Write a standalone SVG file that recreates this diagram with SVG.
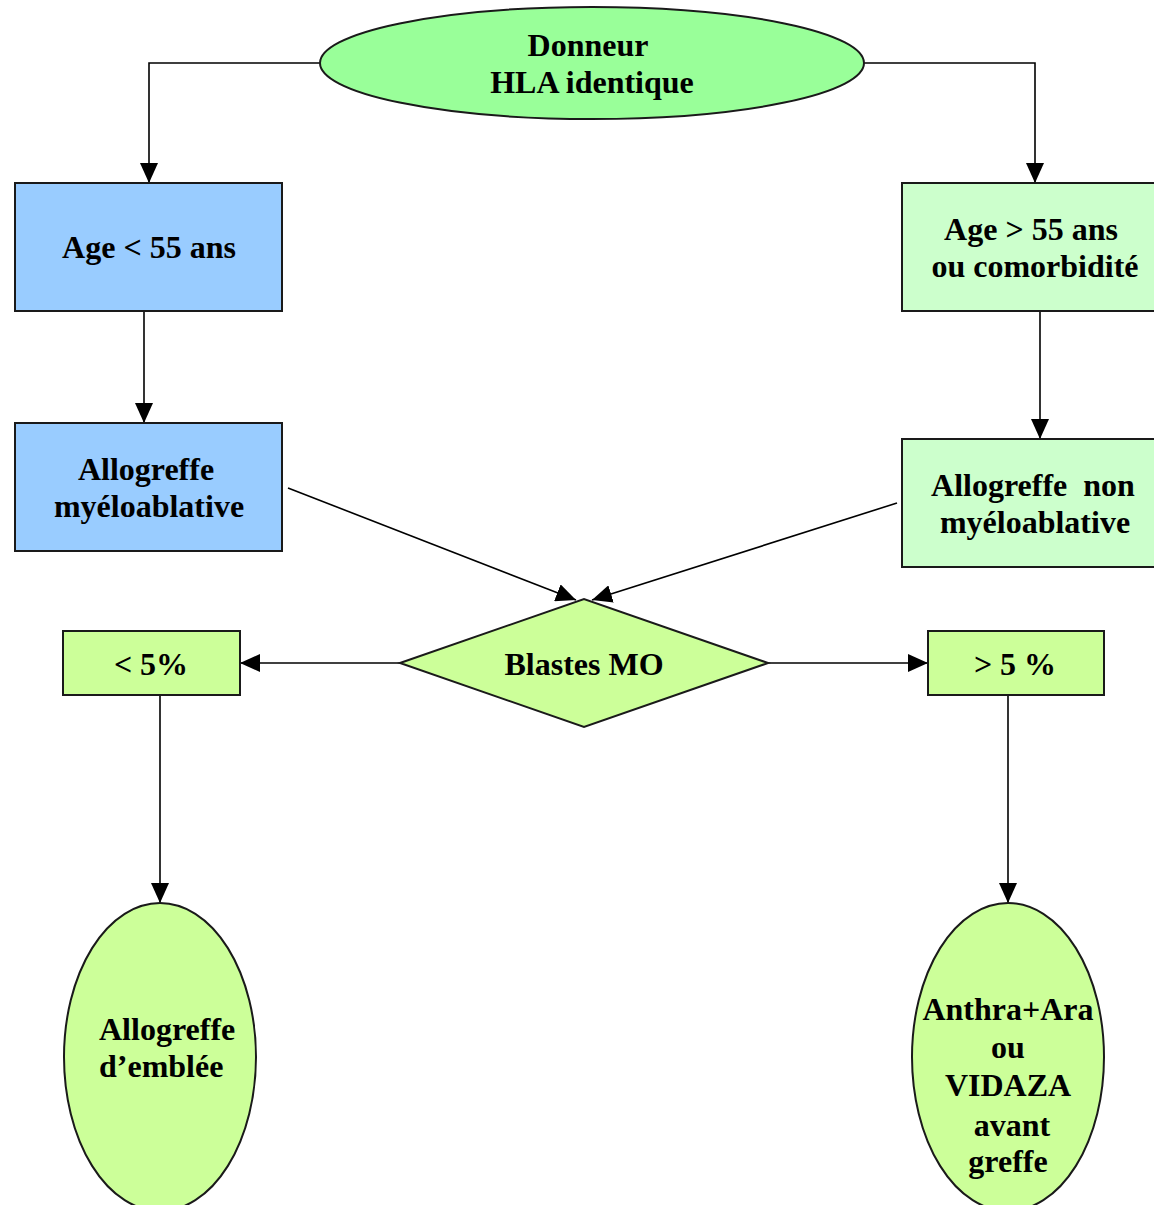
<svg xmlns="http://www.w3.org/2000/svg" width="1154" height="1205" viewBox="0 0 1154 1205">
<defs>
<marker id="ah" markerUnits="userSpaceOnUse" markerWidth="20" markerHeight="18" viewBox="0 0 20 18" refX="20" refY="9" orient="auto">
<path d="M0,0 L20,9 L0,18 Z" fill="#000"/>
</marker>
</defs>
<style>
.n{stroke:#1a1a1a;stroke-width:2}
.t{font-family:"Liberation Serif","Times New Roman",serif;font-weight:bold;font-size:32px;fill:#000}
.c{text-anchor:middle}
.e{fill:none;stroke:#000;stroke-width:1.6}
</style>
<rect width="1154" height="1205" fill="#fff"/>
<g id="connectors">
<path class="e" d="M320,63 H149 V183" marker-end="url(#ah)"/>
<path class="e" d="M864,63 H1035 V183" marker-end="url(#ah)"/>
<path class="e" d="M144,311 V423" marker-end="url(#ah)"/>
<path class="e" d="M1040,311 V439" marker-end="url(#ah)"/>
<path class="e" d="M288,488 L576,600" marker-end="url(#ah)"/>
<path class="e" d="M897,503 L592,600" marker-end="url(#ah)"/>
<path class="e" d="M400,663 H240" marker-end="url(#ah)"/>
<path class="e" d="M768,663 H928" marker-end="url(#ah)"/>
<path class="e" d="M160,695 V903" marker-end="url(#ah)"/>
<path class="e" d="M1008,695 V903" marker-end="url(#ah)"/>
</g>
<g id="donneur">
<ellipse class="n" cx="592" cy="63" rx="272" ry="56" fill="#99FF99"/>
<text class="t c" x="588" y="56">Donneur</text>
<text class="t c" x="592" y="93">HLA identique</text>
</g>
<g id="age-lt55">
<rect class="n" x="15" y="183" width="267" height="128" fill="#99CCFF"/>
<text class="t c" x="149" y="258">Age &lt; 55 ans</text>
</g>
<g id="age-gt55">
<rect class="n" x="902" y="183" width="260" height="128" fill="#CCFFCC"/>
<text class="t c" x="1031" y="240">Age &gt; 55 ans</text>
<text class="t c" x="1035" y="277">ou comorbidité</text>
</g>
<g id="allo-myelo">
<rect class="n" x="15" y="423" width="267" height="128" fill="#99CCFF"/>
<text class="t c" x="146" y="480">Allogreffe</text>
<text class="t c" x="149" y="517">myéloablative</text>
</g>
<g id="allo-non-myelo">
<rect class="n" x="902" y="439" width="260" height="128" fill="#CCFFCC"/>
<text class="t c" x="1033" y="496" xml:space="preserve">Allogreffe  non</text>
<text class="t c" x="1035" y="533">myéloablative</text>
</g>
<g id="blastes">
<polygon class="n" points="400,663 584,599 768,663 584,727" fill="#CCFF99"/>
<text class="t c" x="584" y="675">Blastes MO</text>
</g>
<g id="lt5">
<rect class="n" x="63" y="631" width="177" height="64" fill="#CCFF99"/>
<text class="t c" x="151" y="675">&lt; 5%</text>
</g>
<g id="gt5">
<rect class="n" x="928" y="631" width="176" height="64" fill="#CCFF99"/>
<text class="t c" x="1015" y="675">&gt; 5 %</text>
</g>
<g id="allo-emblee">
<ellipse class="n" cx="160" cy="1057" rx="96" ry="154" fill="#CCFF99"/>
<text class="t" x="99" y="1040">Allogreffe</text>
<text class="t" x="99" y="1077">d’emblée</text>
</g>
<g id="anthra">
<ellipse class="n" cx="1008" cy="1057" rx="96" ry="154" fill="#CCFF99"/>
<text class="t c" x="1008" y="1020">Anthra+Ara</text>
<text class="t c" x="1008" y="1058">ou</text>
<text class="t c" x="1008" y="1096">VIDAZA</text>
<text class="t c" x="1012" y="1136">avant</text>
<text class="t c" x="1008" y="1172">greffe</text>
</g>
</svg>
